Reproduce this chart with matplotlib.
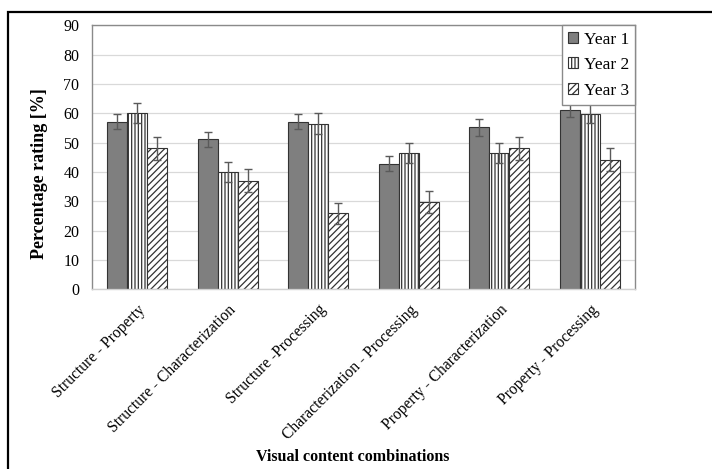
import numpy as np
import matplotlib
matplotlib.use("Agg")
import matplotlib.pyplot as plt
from matplotlib.patches import Rectangle

# data
categories = ["Structure - Property", "Structure - Characterization",
              "Structure -Processing", "Characterization - Processing",
              "Property - Characterization", "Property - Processing"]
year1 = [57.2, 51.1, 57.2, 42.9, 55.2, 61.2]
year2 = [60.0, 40.0, 56.5, 46.6, 46.6, 59.9]
year3 = [48.1, 37.1, 25.9, 29.8, 48.1, 44.2]
err1 = [2.6, 2.5, 2.6, 2.7, 2.8, 2.5]
err2 = [3.4, 3.5, 3.6, 3.4, 3.4, 3.2]
err3 = [3.9, 3.9, 3.7, 3.8, 3.9, 4.0]
yticks = [0, 10, 20, 30, 40, 50, 60, 70, 80, 90]

plt.rcParams['font.family'] = ['Liberation Serif', 'DejaVu Serif']
plt.rcParams['hatch.linewidth'] = 0.9
plt.rcParams['hatch.color'] = '#333333'

fig = plt.figure(figsize=(7.12, 4.69), dpi=100)
ax = fig.add_axes([0.1292, 0.3832, 0.7627, 0.5625])

x = np.arange(len(categories))
w = 0.221
ekw = dict(ecolor='#5a5a5a', elinewidth=1.0, capsize=3, capthick=1.0)
ax.bar(x - w, year1, w, color='#7f7f7f', edgecolor='#333333', linewidth=0.8,
       yerr=err1, error_kw=ekw, label='Year 1', zorder=2)
ax.bar(x, year2, w, color='white', edgecolor='#333333', linewidth=0.8,
       hatch='|||||', yerr=err2, error_kw=ekw, label='Year 2', zorder=2)
ax.bar(x + w, year3, w, color='white', edgecolor='#333333', linewidth=0.8,
       hatch='/////', yerr=err3, error_kw=ekw, label='Year 3', zorder=2)

ax.set_xlim(-0.5, len(categories) - 0.5)
ax.set_ylim(0, 90)
ax.set_yticks(yticks)
ax.yaxis.grid(True, color='#d9d9d9', linewidth=0.9, zorder=0)
ax.set_axisbelow(True)
for s in ax.spines.values():
    s.set_color('#8a8a8a')
    s.set_linewidth(1.0)
ax.spines['bottom'].set_color('#d0d0d0')

ax.tick_params(axis='both', length=0)
ax.tick_params(axis='y', pad=9, labelsize=11.5)
ax.set_xticks(x)
ax.set_xticklabels(categories, rotation=45, ha='right', rotation_mode='anchor',
                   fontsize=11.2)
ax.tick_params(axis='x', pad=9)

leg = ax.legend(loc='upper right', borderaxespad=0, fontsize=12.5,
                fancybox=False, edgecolor='#8a8a8a', framealpha=1,
                handlelength=0.6, handleheight=0.6, handletextpad=0.3,
                labelspacing=0.55, borderpad=0.35)
leg.get_frame().set_linewidth(1.0)

fig.text(40 / 712, 1 - 174 / 469, 'Percentage rating [%]', rotation=90,
         ha='center', va='center', fontsize=13, fontweight='bold')
fig.text(353 / 712, 1 - 457 / 469, 'Visual content combinations',
         ha='center', va='center', fontsize=11.5, fontweight='bold')

# outer frame of the figure panel
fig.patches.append(Rectangle((8 / 712, -0.2), 1.2, 0.2 + 1 - 12.5 / 469,
                             transform=fig.transFigure, fill=False,
                             edgecolor='black', linewidth=1.6))

fig.savefig('out.png', dpi=100)
